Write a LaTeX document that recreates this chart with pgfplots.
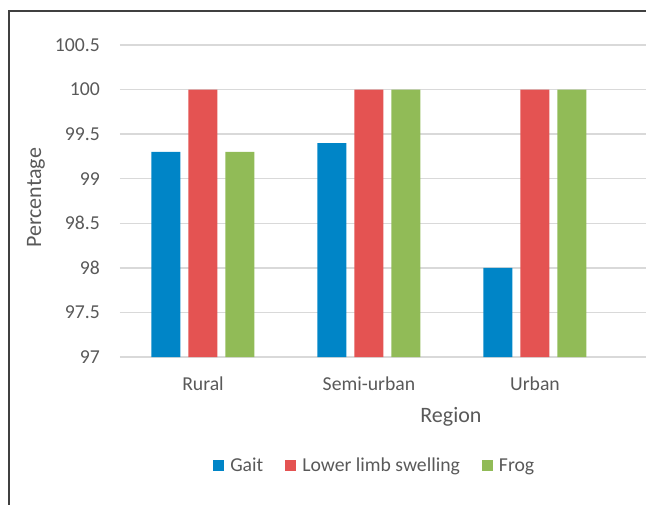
\documentclass[border=0pt]{standalone}
\usepackage{pgfplots}
\pgfplotsset{compat=1.18}
\usepackage{fontspec}
\setmainfont{Carlito}

\definecolor{gaitblue}{RGB}{0,133,199}
\definecolor{limbred}{RGB}{228,83,82}
\definecolor{froggreen}{RGB}{145,187,87}
\definecolor{txtgray}{RGB}{89,89,89}
\definecolor{gridgray}{RGB}{217,217,217}
\definecolor{framegray}{RGB}{64,64,64}

\begin{document}
\begin{tikzpicture}[x=1pt,y=1pt]
\begin{axis}[
  at={(120pt,147pt)}, anchor=south west,
  scale only axis, width=532pt, height=312pt,
  ybar=8pt, bar width=29pt,
  xmin=-0.5, xmax=2.705,
  ymin=97, ymax=100.5,
  ytick={97,97.5,98,98.5,99,99.5,100,100.5},
  yticklabels={97,97.5,98,98.5,99,99.5,100,100.5},
  xtick={0,1,2},
  xticklabels={Rural,Semi-urban,Urban},
  major tick length=0pt,
  axis line style={draw=none},
  ymajorgrids,
  grid style={gridgray, line width=1.5pt},
  /pgf/number format/assume math mode=true,
  font=\fontsize{19.7}{22}\selectfont,
  tick label style={txtgray},
  yticklabel style={anchor=east, inner sep=0pt, xshift=-20pt},
  xticklabel style={anchor=base, inner sep=0pt, yshift=-33pt},
  xlabel={Region}, ylabel={Percentage},
  label style={txtgray, font=\fontsize{22}{24}\selectfont},
  xlabel style={at={(axis description cs:0.622,-0.192)}, anchor=center},
  ylabel style={at={(axis description cs:-0.158,0.510)}, anchor=center},
  legend columns=3,
  legend style={at={(axis description cs:0.477,-0.349)}, anchor=center,
    draw=none, fill=none, text=txtgray, inner sep=0pt,
    nodes={inner sep=0pt},
    /tikz/every odd column/.append style={column sep=6pt},
    /tikz/every even column/.append style={column sep=22pt}},
  legend image code/.code={\fill[#1] (0pt,-5.5pt) rectangle (11pt,5.5pt);},
]
\addplot[fill=gaitblue, draw=none] coordinates {(0,99.3) (1,99.4) (2,98.0)};
\addplot[fill=limbred, draw=none] coordinates {(0,100) (1,100) (2,100)};
\addplot[fill=froggreen, draw=none] coordinates {(0,99.3) (1,100) (2,100)};
\legend{Gait,Lower limb swelling,Frog}
\end{axis}
% chart frame (top and left edges)
\draw[framegray, line width=1.4pt] (9,-5) -- (9,493) -- (660,493);
% page is exactly the chart area
\pgfresetboundingbox
\useasboundingbox (0,0) rectangle (646,504);
\end{tikzpicture}
\end{document}
